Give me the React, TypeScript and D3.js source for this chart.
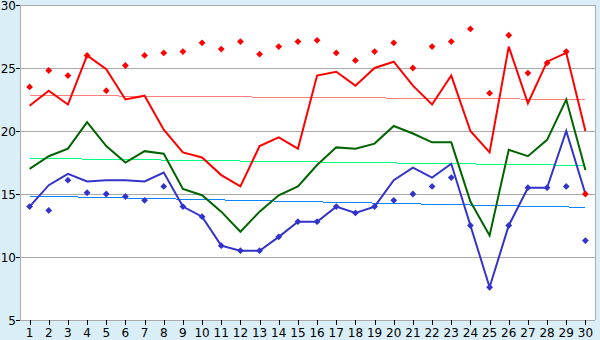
import React from "react";
import * as d3 from "d3";

const width = 600;
const height = 340;
const margin = { top: 5, right: 5, bottom: 20, left: 20 };

const days = d3.range(1, 31);
const yTicks = [5, 10, 15, 20, 25, 30];

const maxLine = [22.0, 23.2, 22.1, 26.0, 24.9, 22.5, 22.8, 20.1, 18.3, 17.9, 16.5, 15.6, 18.8, 19.5, 18.6, 24.4, 24.7, 23.6, 25.0, 25.5, 23.6, 22.1, 24.4, 20.0, 18.3, 26.7, 22.2, 25.5, 26.2, 20.0];
const maxPoints = [23.5, 24.8, 24.4, 26.0, 23.2, 25.2, 26.0, 26.2, 26.3, 27.0, 26.5, 27.1, 26.1, 26.7, 27.1, 27.2, 26.2, 25.6, 26.3, 27.0, 25.0, 26.7, 27.1, 28.1, 23.0, 27.6, 24.6, 25.4, 26.3, 15.0];
const meanLine = [17.0, 18.0, 18.6, 20.7, 18.8, 17.5, 18.4, 18.2, 15.4, 14.9, 13.6, 12.0, 13.6, 14.9, 15.6, 17.3, 18.7, 18.6, 19.0, 20.4, 19.8, 19.1, 19.1, 14.4, 11.7, 18.5, 18.0, 19.3, 22.5, 16.9];
const minLine = [14.0, 15.7, 16.6, 16.0, 16.1, 16.1, 16.0, 16.7, 14.0, 13.2, 10.9, 10.5, 10.5, 11.6, 12.8, 12.8, 14.0, 13.5, 14.0, 16.1, 17.1, 16.3, 17.4, 12.5, 7.6, 12.5, 15.5, 15.5, 20.0, 15.0];
const minPoints = [14.0, 13.7, 16.1, 15.1, 15.0, 14.8, 14.5, 15.6, 14.0, 13.2, 10.9, 10.5, 10.5, 11.6, 12.8, 12.8, 14.0, 13.5, 14.0, 14.5, 15.0, 15.6, 16.3, 12.5, 7.6, 12.5, 15.5, 15.5, 15.6, 11.3];

// trend line end values (day 1, day 30)
const maxTrend = [22.83, 22.5];
const meanTrend = [17.83, 17.27];
const minTrend = [14.84, 13.94];

export default function App() {
  const x = d3
    .scalePoint<number>()
    .domain(days)
    .range([margin.left, width - margin.right])
    .padding(0.5);
  const y = d3
    .scaleLinear()
    .domain([5, 30])
    .range([height - margin.bottom, margin.top]);

  const line = d3
    .line<number>()
    .x((_, i) => x(days[i]) as number)
    .y(d => y(d));

  const diamond = (cx: number, cy: number, r = 3.4) =>
    `M${cx},${cy - r}L${cx + r},${cy}L${cx},${cy + r}L${cx - r},${cy}Z`;

  const trend = (t: number[]) => [
    [x(1) as number, y(t[0])],
    [x(30) as number, y(t[1])],
  ];

  const left = margin.left;
  const right = width - margin.right;
  const top = margin.top;
  const bottom = height - margin.bottom;
  const font = "DejaVu Sans, Verdana, sans-serif";

  const trends: [number[], string][] = [
    [maxTrend, "#ff7f7f"],
    [meanTrend, "#00ff80"],
    [minTrend, "#0a84ff"],
  ];

  return (
    <div style={{ position: "absolute", left: 0, top: 0 }}>
      <svg width={width} height={height} style={{ display: "block" }}>
        <rect width={width} height={height} fill="#d9eef6" />
        <rect x={left} y={top} width={right - left} height={bottom - top} fill="#fff" />
        {yTicks.map(t => (
          <g key={t}>
            <line x1={left} x2={right} y1={y(t) + 0.5} y2={y(t) + 0.5} stroke="#aaa" />
            <line x1={left - 4} x2={left} y1={y(t) + 0.5} y2={y(t) + 0.5} stroke="#000" />
          </g>
        ))}
        <line x1={left + 0.5} x2={left + 0.5} y1={top} y2={bottom} stroke="#aaa" />
        <line x1={right + 0.5} x2={right + 0.5} y1={top} y2={bottom} stroke="#aaa" />
        {days.map(d => (
          <line key={d} x1={Math.round(x(d) as number) + 0.5} x2={Math.round(x(d) as number) + 0.5} y1={bottom} y2={bottom + 5} stroke="#000" />
        ))}
        {yTicks.map(t => (
          <text key={t} x={left - 4} y={y(t)} dy="0.4em" textAnchor="end" fontFamily={font} fontSize={12} fill="#000">
            {t}
          </text>
        ))}
        {days.map(d => (
          <text key={d} x={x(d)} y={height - 3} textAnchor="middle" fontFamily={font} fontSize={12} fill="#000">
            {d}
          </text>
        ))}
        {trends.map(([t, c], i) => (
          <line key={i} x1={trend(t)[0][0]} y1={trend(t)[0][1]} x2={trend(t)[1][0]} y2={trend(t)[1][1]} stroke={c} strokeWidth={1} shapeRendering="crispEdges" />
        ))}
        <path d={line(minLine) || ""} fill="none" stroke="#3333cc" strokeWidth={2} />
        <path d={line(meanLine) || ""} fill="none" stroke="#006400" strokeWidth={2} />
        <path d={line(maxLine) || ""} fill="none" stroke="#ff0000" strokeWidth={2} />
        {minPoints.map((v, i) => (
          <path key={i} d={diamond(x(days[i]) as number, y(v))} fill="#3333cc" />
        ))}
        {maxPoints.map((v, i) => (
          <path key={i} d={diamond(x(days[i]) as number, y(v))} fill="#ff0000" />
        ))}
      </svg>
    </div>
  );
}
